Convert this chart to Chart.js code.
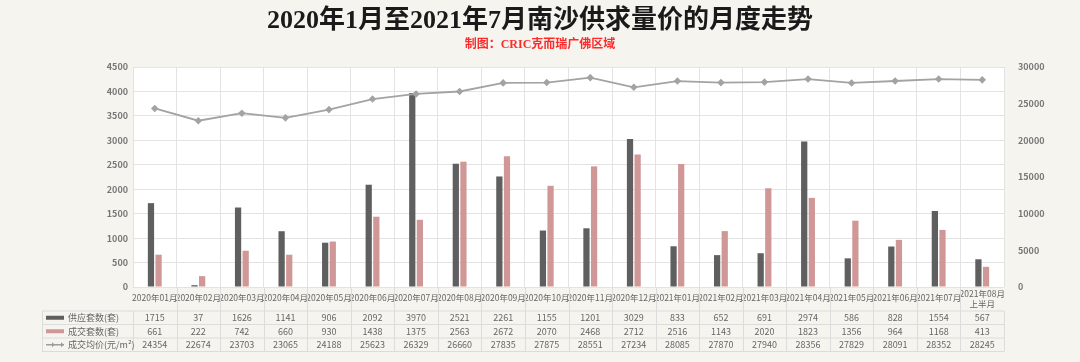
<!DOCTYPE html>
<html>
<head>
<meta charset="utf-8">
<script src="https://cdn.jsdelivr.net/npm/chart.js@4.4.1/dist/chart.umd.min.js"></script>
<style>
  html, body { margin: 0; padding: 0; background: #f5f4ee; overflow: hidden; }
  #wrap { width: 1080px; height: 362px; position: relative; }
  canvas { display: block; }
</style>
</head>
<body>
<div id="wrap"><canvas id="supplyChart" width="1080" height="362"></canvas></div>
<script>
// 月份
const months = [
  "2020年01月", "2020年02月", "2020年03月", "2020年04月", "2020年05月",
  "2020年06月", "2020年07月", "2020年08月", "2020年09月", "2020年10月",
  "2020年11月", "2020年12月", "2021年01月", "2021年02月", "2021年03月",
  "2021年04月", "2021年05月", "2021年06月", "2021年07月", ["2021年08月", "上半月"]
];
const supply = [1715, 37, 1626, 1141, 906, 2092, 3970, 2521, 2261, 1155, 1201, 3029, 833, 652, 691, 2974, 586, 828, 1554, 567];
const deals = [661, 222, 742, 660, 930, 1438, 1375, 2563, 2672, 2070, 2468, 2712, 2516, 1143, 2020, 1823, 1356, 964, 1168, 413];
const avgPrice = [24354, 22674, 23703, 23065, 24188, 25623, 26329, 26660, 27835, 27875, 28551, 27234, 28085, 27870, 27940, 28356, 27829, 28091, 28352, 28245];
const leftTicks = [0, 500, 1000, 1500, 2000, 2500, 3000, 3500, 4000, 4500];
const rightTicks = [0, 5000, 10000, 15000, 20000, 25000, 30000];

const titleText = "2020年1月至2021年7月南沙供求量价的月度走势";
const subTitleText = "制图：CRIC克而瑞广佛区域";

const FONT = "'Noto Sans CJK SC', 'Noto Sans', sans-serif";

// 标题 + 白色绘图区 + 底部数据表
const decorPlugin = {
  id: "decor",
  beforeDraw(chart) {
    const { ctx, chartArea: a } = chart;
    ctx.save();
    ctx.fillStyle = "#ffffff";
    ctx.fillRect(a.left, a.top, a.right - a.left, a.bottom - a.top);
    ctx.restore();
  },
  afterDraw(chart) {
    const { ctx, chartArea: a } = chart;
    const x = chart.scales.x;
    ctx.save();
    // 标题
    ctx.textAlign = "center";
    ctx.textBaseline = "middle";
    ctx.fillStyle = "#1a1a1a";
    ctx.font = "bold 26px 'Liberation Serif', 'Noto Sans CJK SC', serif";
    ctx.fillText(titleText, 540, 21);
    ctx.fillStyle = "#ff2a2a";
    ctx.font = "bold 12px 'Liberation Serif', 'Noto Sans CJK SC', serif";
    ctx.fillText(subTitleText, 540, 45);

    // 表格
    const step = (a.right - a.left) / months.length;
    const tLeft = 42;
    const rows = [311, 324.5, 338, 351.5];
    ctx.font = "8.5px " + FONT;
    ctx.fillStyle = "#666";
    months.forEach((m, i) => {
      const cx = x.getPixelForValue(i);
      if (Array.isArray(m)) {
        ctx.fillText(m[0], cx, 294);
        ctx.fillText(m[1], cx, 304);
      } else {
        ctx.fillText(m, cx, 298);
      }
    });

    ctx.strokeStyle = "#dcdcdc";
    ctx.lineWidth = 1;
    rows.forEach((y) => {
      ctx.beginPath();
      ctx.moveTo(tLeft, y);
      ctx.lineTo(a.right, y);
      ctx.stroke();
    });
    ctx.beginPath();
    ctx.moveTo(tLeft + 0.5, rows[0]);
    ctx.lineTo(tLeft + 0.5, rows[3]);
    ctx.stroke();
    for (let i = 0; i <= months.length; i++) {
      const vx = Math.round(a.left + i * step) + 0.5;
      ctx.beginPath();
      ctx.moveTo(vx, i === 0 || i === months.length ? rows[0] : 287);
      ctx.lineTo(vx, rows[3]);
      ctx.stroke();
    }

    const series = [supply, deals, avgPrice];
    const labels = ["供应套数(套)", "成交套数(套)", "成交均价(元/m²)"];
    ctx.font = "9px " + FONT;
    series.forEach((arr, r) => {
      const cy = (rows[r] + rows[r + 1]) / 2;
      // 图例
      if (r === 0 || r === 1) {
        ctx.fillStyle = r === 0 ? "#5f5f5f" : "#d09797";
        ctx.fillRect(46, cy - 2, 18, 4);
      } else {
        ctx.strokeStyle = "#9d9d9d";
        ctx.lineWidth = 1.5;
        ctx.beginPath();
        ctx.moveTo(46, cy);
        ctx.lineTo(64, cy);
        ctx.stroke();
        ctx.fillStyle = "#9d9d9d";
        ctx.beginPath();
        ctx.moveTo(52, cy - 2.5);
        ctx.lineTo(55, cy);
        ctx.lineTo(52, cy + 2.5);
        ctx.fill();
        ctx.beginPath();
        ctx.moveTo(61, cy - 2.5);
        ctx.lineTo(64, cy);
        ctx.lineTo(61, cy + 2.5);
        ctx.fill();
      }
      ctx.fillStyle = "#666";
      ctx.textAlign = "left";
      ctx.fillText(labels[r], 68, cy);
      ctx.textAlign = "center";
      arr.forEach((v, i) => {
        ctx.fillText(String(v), x.getPixelForValue(i), cy);
      });
    });
    ctx.restore();
  },
};

const ctx = document.getElementById("supplyChart").getContext("2d");
new Chart(ctx, {
  type: "bar",
  data: {
    labels: months,
    datasets: [
      {
        type: "line",
        label: "成交均价(元/m²)",
        data: avgPrice,
        yAxisID: "y1",
        borderColor: "#a3a3a3",
        backgroundColor: "#a3a3a3",
        borderWidth: 1.8,
        pointStyle: "rectRot",
        pointRadius: 2.5,
        tension: 0,
        order: 0,
      },
      {
        label: "供应套数(套)",
        data: supply,
        yAxisID: "y",
        backgroundColor: "#5f5f5f",
        borderWidth: 0,
        categoryPercentage: 0.35,
        barPercentage: 0.82,
        order: 1,
      },
      {
        label: "成交套数(套)",
        data: deals,
        yAxisID: "y",
        backgroundColor: "#d09797",
        borderWidth: 0,
        categoryPercentage: 0.35,
        barPercentage: 0.82,
        order: 1,
      },
    ],
  },
  options: {
    responsive: false,
    animation: false,
    devicePixelRatio: 1,
    layout: { padding: { top: 67, left: 0, right: 0, bottom: 0 } },
    plugins: {
      legend: { display: false },
      tooltip: { enabled: false },
    },
    scales: {
      x: {
        offset: true,
        grid: { color: "#e3e3e3", offset: true, drawTicks: false },
        border: { display: false },
        ticks: { display: false },
        afterFit(scale) { scale.height = 75; },
      },
      y: {
        position: "left",
        min: 0,
        max: 4500,
        afterBuildTicks(scale) { scale.ticks = leftTicks.map((v) => ({ value: v })); },
        grid: { color: "#e3e3e3", drawTicks: false },
        border: { display: false },
        ticks: {
          color: "#777",
          font: { size: 9, weight: "bold", family: FONT },
          padding: 5,
          callback: (v) => String(v),
        },
        afterFit(scale) { scale.width = 133; },
      },
      y1: {
        position: "right",
        min: 0,
        max: 30000,
        afterBuildTicks(scale) { scale.ticks = rightTicks.map((v) => ({ value: v })); },
        grid: { display: false },
        border: { display: false },
        ticks: {
          color: "#777",
          font: { size: 9, weight: "bold", family: FONT },
          padding: 6,
          callback: (v) => String(v),
        },
        afterFit(scale) { scale.width = 76; },
      },
    },
  },
  plugins: [decorPlugin],
});
</script>
</body>
</html>
